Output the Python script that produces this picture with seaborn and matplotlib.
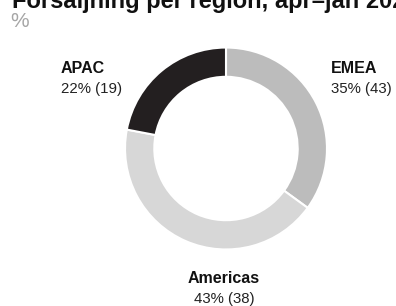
import matplotlib
matplotlib.use("Agg")
import matplotlib.pyplot as plt
import seaborn as sns

# data
regions = ["EMEA", "Americas", "APAC"]
shares = [35, 43, 22]
counts = [43, 38, 19]
colors = ["#bcbcbc", "#d7d7d7", "#231f20"]

sns.set_theme(style="white")
plt.rcParams["font.family"] = ["Liberation Sans", "DejaVu Sans"]

W, H = 396, 306
fig = plt.figure(figsize=(W / 100, H / 100), dpi=100)
fig.patch.set_facecolor("white")

# donut: centre ~ (226, 148.5) px, radius ~103 px
ax = fig.add_axes([123 / W, 1 - 251.5 / H, 206 / W, 206 / H])
ax.pie(shares, colors=colors, startangle=90, counterclock=False, radius=1,
       wedgeprops=dict(width=0.29, edgecolor="white", linewidth=1.5))
ax.set_xlim(-1.02, 1.02)
ax.set_ylim(-1.02, 1.02)
ax.set_aspect("equal")
ax.axis("off")

# title (cut off at the top like the reference)
fig.text(12 / W, 1 - 8 / H, "Försäljning per region, apr–jan 2024",
         fontsize=17, fontweight="bold", color="#111111", va="baseline", ha="left")
fig.text(10 / W, 1 - 27 / H, "%", fontsize=15, color="#a6a6a6", va="baseline", ha="left")

# labels
label_pos = {"EMEA": (331, "left"), "Americas": (224, "center"), "APAC": (61, "left")}
label_y = {"EMEA": 73, "Americas": 283, "APAC": 73}
for name, pct, n in zip(regions, shares, counts):
    x, ha = label_pos[name]
    y = label_y[name]
    fig.text(x / W, 1 - y / H, name, fontsize=11.5, fontweight="bold",
             color="#111111", ha=ha, va="baseline")
    fig.text(x / W, 1 - (y + 20) / H, f"{pct}% ({n})", fontsize=10.8,
             color="#222222", ha=ha, va="baseline")

fig.savefig("out.png", dpi=100, facecolor="white")
